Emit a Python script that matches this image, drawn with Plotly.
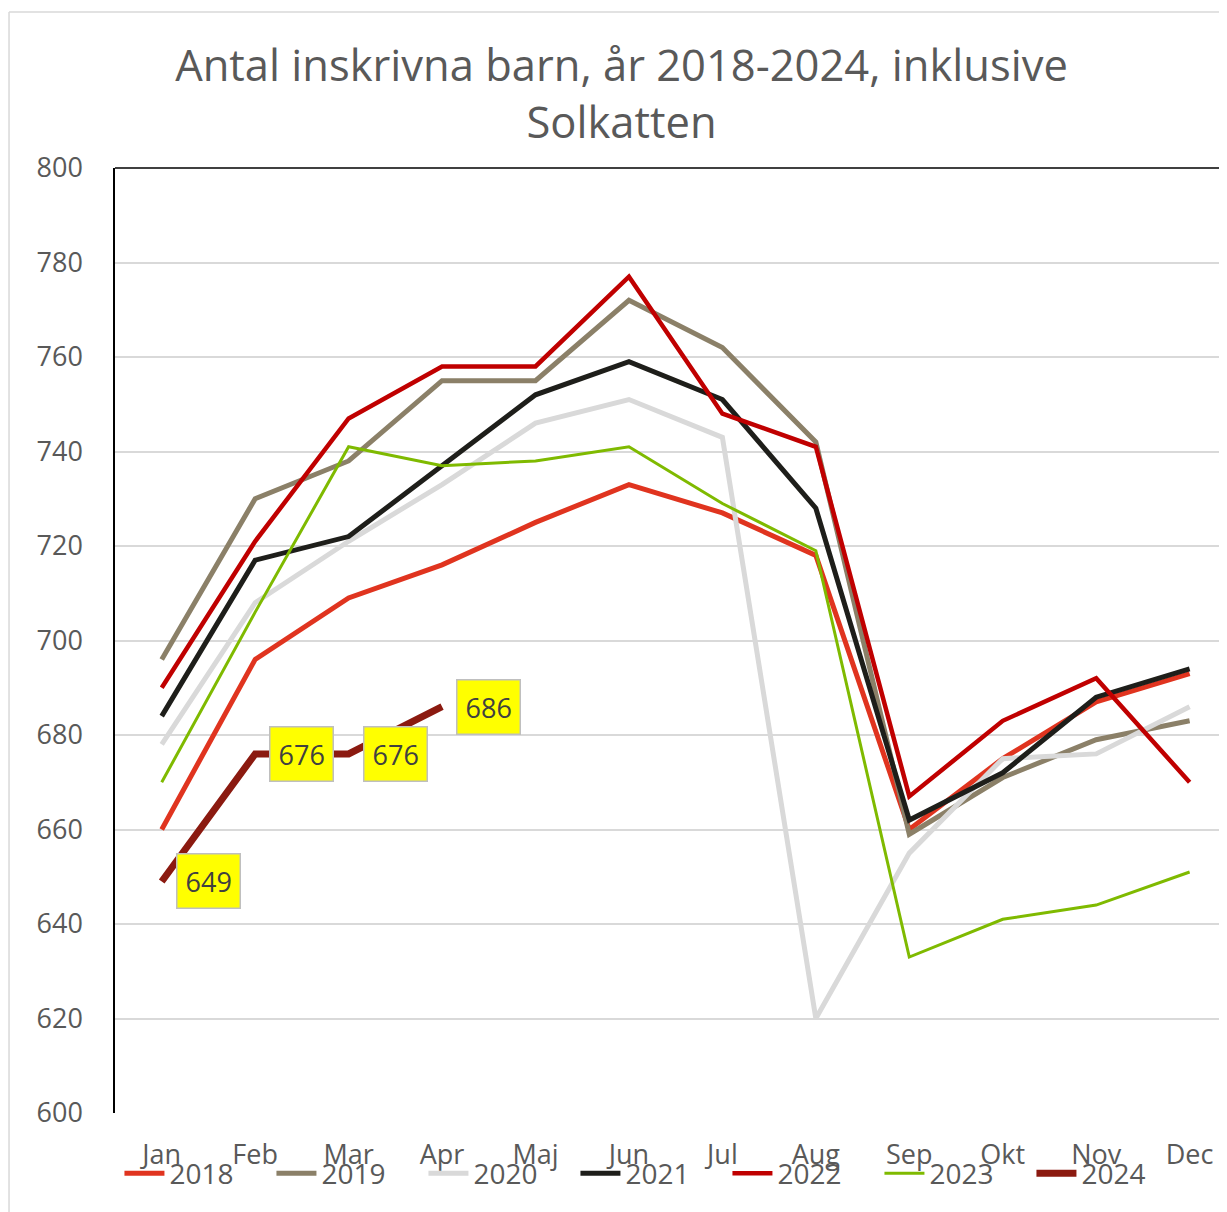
import plotly.graph_objects as go

months = ["Jan", "Feb", "Mar", "Apr", "Maj", "Jun", "Jul", "Aug", "Sep", "Okt", "Nov", "Dec"]

y2018 = [660, 696, 709, 716, 725, 733, 727, 718, 660, 675, 687, 693]
y2019 = [696, 730, 738, 755, 755, 772, 762, 742, 659, 671, 679, 683]
y2020 = [678, 708, 721, 733, 746, 751, 743, 620, 655, 675, 676, 686]
y2021 = [684, 717, 722, 737, 752, 759, 751, 728, 662, 672, 688, 694]
y2022 = [690, 721, 747, 758, 758, 777, 748, 741, 667, 683, 692, 670]
y2023 = [670, 706, 741, 737, 738, 741, 729, 719, 633, 641, 644, 651]
y2024 = [649, 676, 676, 686]

series = [
    ("2018", y2018, "#E0341F", 5),
    ("2019", y2019, "#8B8068", 5),
    ("2020", y2020, "#D9D9D9", 5),
    ("2021", y2021, "#1E1E1A", 5),
    ("2022", y2022, "#C00000", 4.5),
    ("2023", y2023, "#7FBA00", 3),
    ("2024", y2024, "#8B1A10", 7),
]

FONT = "Open Sans"
GREY = "#595959"

fig = go.Figure()
for name, vals, color, w in series:
    fig.add_trace(go.Scatter(
        x=months[:len(vals)], y=vals, name=name, mode="lines",
        line=dict(color=color, width=w),
    ))

for m, v in zip(months, y2024):
    fig.add_annotation(
        x=m, y=v, text=str(v), showarrow=False,
        xanchor="left", yanchor="middle", xshift=14,
        bgcolor="#FFFF00", bordercolor="#BFBFBF", borderwidth=1.5, borderpad=8,
        font=dict(family=FONT, size=27, color="#404040"),
    )

# plot-area top border
fig.add_shape(type="line", xref="paper", yref="paper", x0=0, x1=1.01, y0=1, y1=1,
              line=dict(color="#000000", width=1.5))
# outer chart border (left and top)
fig.add_shape(type="line", xref="paper", yref="paper", x0=-0.0953, x1=-0.0953, y0=-0.2, y1=1.165,
              line=dict(color="#D9D9D9", width=1.5))
fig.add_shape(type="line", xref="paper", yref="paper", x0=-0.0953, x1=1.05, y0=1.165, y1=1.165,
              line=dict(color="#D9D9D9", width=1.5))

fig.update_layout(
    width=1227, height=1212,
    margin=dict(l=107, r=8, t=160, b=107),
    paper_bgcolor="white", plot_bgcolor="white",
    title=dict(
        text="Antal inskrivna barn, år 2018-2024, inklusive<br>Solkatten",
        x=0.5, xanchor="center", y=0.9395, yanchor="top",
        font=dict(family=FONT, size=43.5, color=GREY),
    ),
    font=dict(family=FONT, color=GREY),
    showlegend=True,
    legend=dict(
        orientation="h", x=0.004, xanchor="left", y=-0.064, yanchor="middle",
        font=dict(family=FONT, size=28, color=GREY),
        entrywidth=97, entrywidthmode="pixels", itemwidth=40,
        bgcolor="rgba(0,0,0,0)", tracegroupgap=0,
    ),
    xaxis=dict(
        type="category", range=[-0.5, 11.4],
        showgrid=False, zeroline=False, showline=False,
        ticks="", tickfont=dict(family=FONT, size=27, color=GREY),
        ticklabelstandoff=23,
    ),
    yaxis=dict(
        range=[600, 800], dtick=20, tick0=600,
        showgrid=True, gridcolor="#D9D9D9", gridwidth=1.5,
        zeroline=False, showline=True, linecolor="#000000", linewidth=1.5,
        ticks="", tickfont=dict(family=FONT, size=27, color=GREY),
        ticklabelstandoff=25,
    ),
)

fig.write_html("out.html")
